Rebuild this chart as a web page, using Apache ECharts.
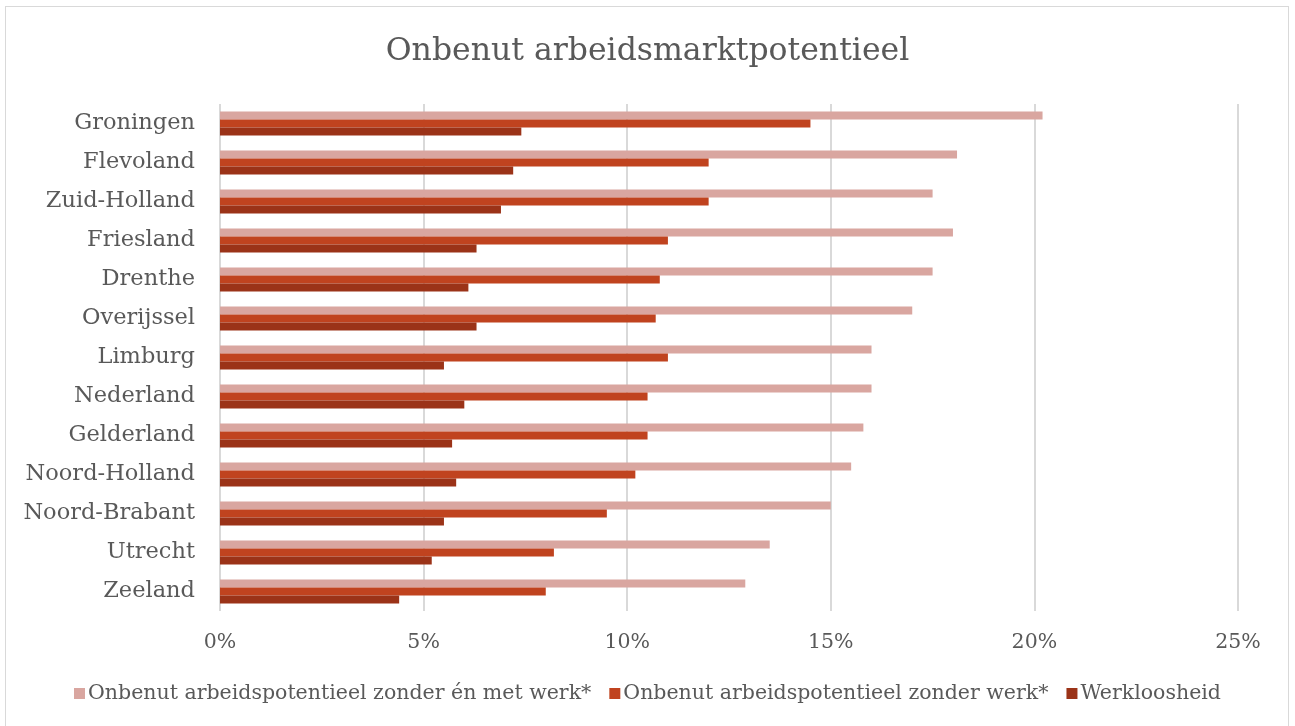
<!DOCTYPE html>
<html>
<head>
<meta charset="utf-8">
<script src="https://cdn.jsdelivr.net/npm/echarts@6/dist/echarts.min.js"></script>
<style>
  html, body { margin: 0; padding: 0; background: #fff; }
  #wrap { position: relative; width: 1295px; height: 726px; overflow: hidden; }
  #frame { position: absolute; left: 5px; top: 6px; width: 1284px; height: 730px; border: 1px solid #d9d9d9; box-sizing: border-box; }
  #chart { position: absolute; left: 0; top: 0; width: 1295px; height: 726px; }
</style>
</head>
<body>
<div id="wrap">
  <div id="frame"></div>
  <div id="chart"></div>
</div>
<script>
// provincies, van boven naar beneden
var regios = ['Groningen', 'Flevoland', 'Zuid-Holland', 'Friesland', 'Drenthe', 'Overijssel',
  'Limburg', 'Nederland', 'Gelderland', 'Noord-Holland', 'Noord-Brabant', 'Utrecht', 'Zeeland'];

// waarden in procenten
var zonderEnMetWerk = [20.2, 18.1, 17.5, 18.0, 17.5, 17.0, 16.0, 16.0, 15.8, 15.5, 15.0, 13.5, 12.9];
var zonderWerk = [14.5, 12.0, 12.0, 11.0, 10.8, 10.7, 11.0, 10.5, 10.5, 10.2, 9.5, 8.2, 8.0];
var werkloosheid = [7.4, 7.2, 6.9, 6.3, 6.1, 6.3, 5.5, 6.0, 5.7, 5.8, 5.5, 5.2, 4.4];

var seriesNamen = ['Onbenut arbeidspotentieel zonder én met werk*', 'Onbenut arbeidspotentieel zonder werk*', 'Werkloosheid'];
var kleuren = ['#d9a6a0', '#c0431f', '#9b3318'];

var font = '"DejaVu Serif", serif';
var chart = echarts.init(document.getElementById('chart'));

chart.setOption({
  animation: false,
  textStyle: { fontFamily: font },
  title: {
    text: 'Onbenut arbeidsmarktpotentieel',
    left: 'center',
    top: 31,
    textStyle: { fontFamily: font, fontSize: 31.5, fontWeight: 'normal', color: '#595959' }
  },
  legend: {
    bottom: 17,
    left: 'center',
    itemWidth: 11,
    itemHeight: 11,
    itemGap: 18,
    icon: 'rect',
    textStyle: { fontFamily: font, fontSize: 20.5, color: '#595959', padding: [0, 0, 0, -2] },
    data: seriesNamen
  },
  grid: { left: 220, right: 57, top: 104, bottom: 115, containLabel: false },
  xAxis: {
    type: 'value',
    min: 0,
    max: 25,
    interval: 5,
    axisLine: { show: false },
    axisTick: { show: false },
    splitLine: { lineStyle: { color: '#d9d9d9', width: 2 } },
    axisLabel: {
      formatter: '{value}%',
      margin: 21,
      fontFamily: font,
      fontSize: 20.5,
      color: '#595959'
    }
  },
  yAxis: {
    type: 'category',
    inverse: true,
    data: regios,
    axisLine: { show: false },
    axisTick: { show: false },
    axisLabel: { margin: 25, fontFamily: font, fontSize: 22.5, color: '#595959' }
  },
  series: [
    { name: seriesNamen[0], type: 'bar', data: zonderEnMetWerk, barWidth: 8, barGap: '0%', itemStyle: { color: kleuren[0] } },
    { name: seriesNamen[1], type: 'bar', data: zonderWerk, barWidth: 8, barGap: '0%', itemStyle: { color: kleuren[1] } },
    { name: seriesNamen[2], type: 'bar', data: werkloosheid, barWidth: 8, barGap: '0%', itemStyle: { color: kleuren[2] } }
  ]
});
</script>
</body>
</html>
